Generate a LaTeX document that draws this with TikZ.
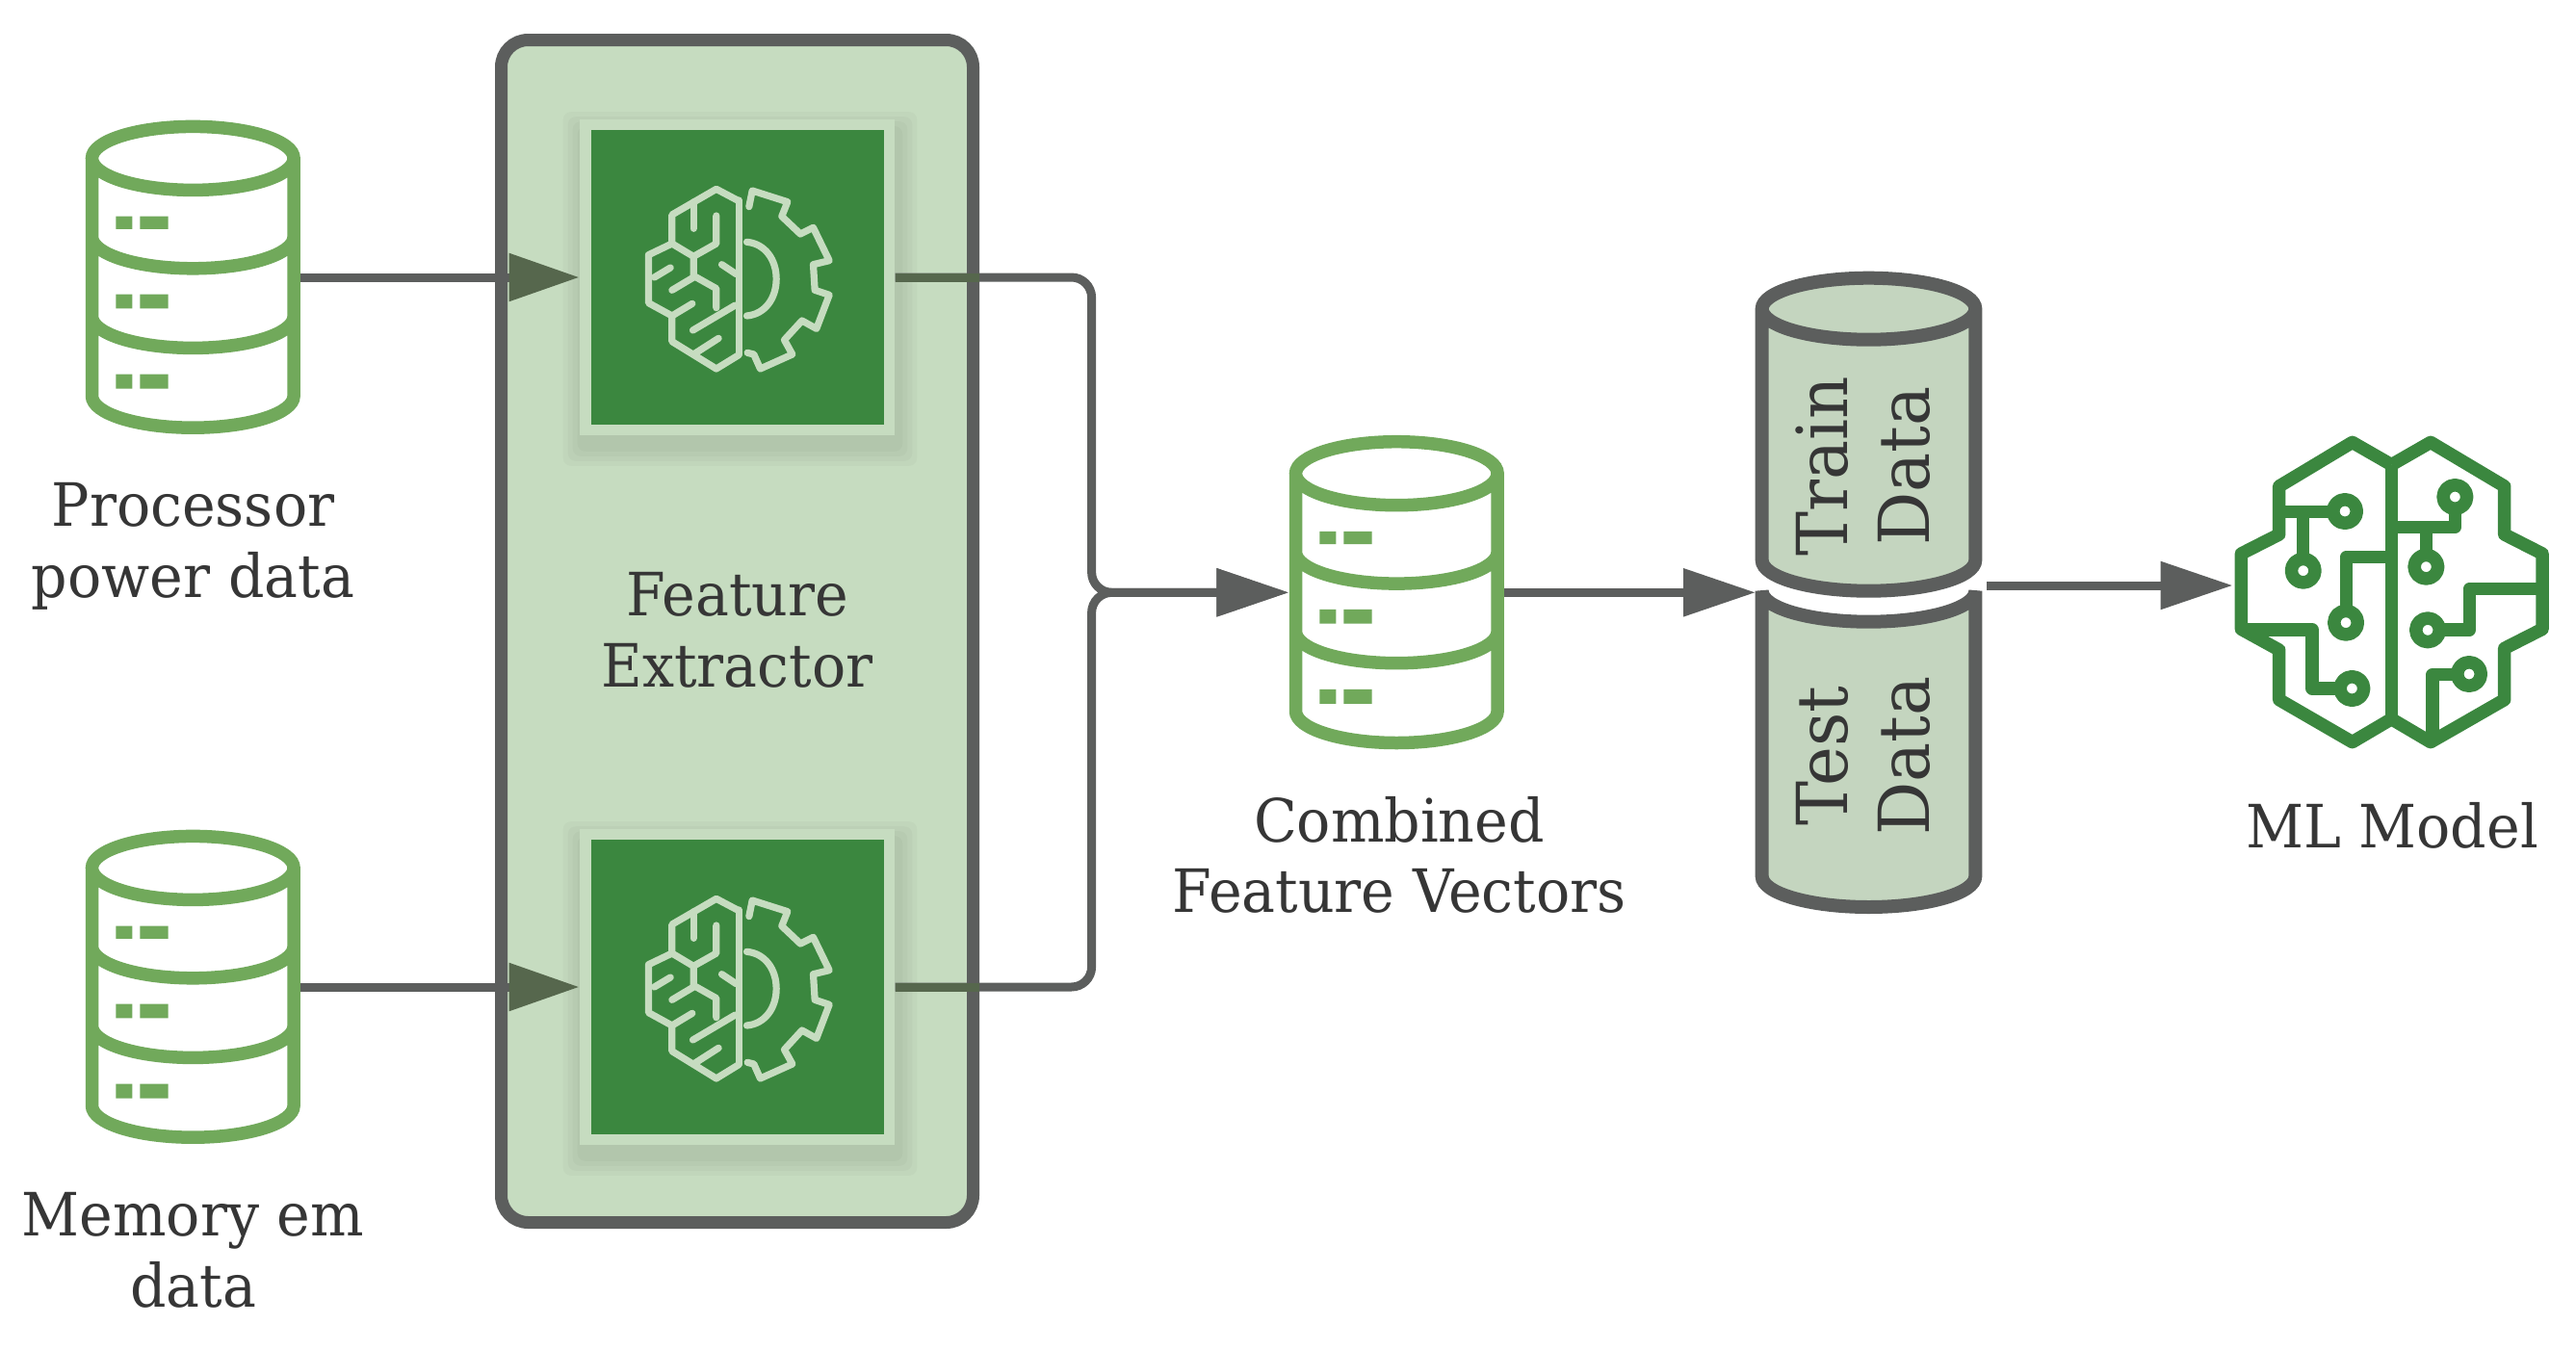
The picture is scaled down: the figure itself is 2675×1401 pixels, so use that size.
\documentclass[tikz,border=0pt]{standalone}
\usepackage{fontspec}
\setmainfont[FakeStretch=0.945]{DejaVu Serif}
\usetikzlibrary{arrows.meta}
\definecolor{dbgreen}{HTML}{71A95B}
\definecolor{panel}{HTML}{C6DCC0}
\definecolor{cylfill}{HTML}{C4D5BF}
\definecolor{dark}{HTML}{5C5E5D}
\definecolor{deepgreen}{HTML}{3B873F}
\definecolor{linein}{HTML}{56674D}
\definecolor{labelc}{HTML}{363636}
\tikzset{
  lbl/.style={text=labelc,align=center,font=\fontsize{62}{73.7}\selectfont,inner sep=0pt},
  rotlbl/.style={text=labelc,align=center,rotate=90,font=\fontsize{73}{85}\selectfont,inner sep=0pt},
  slot/.style={inner sep=0pt,minimum width=223.5pt,minimum height=327pt},
  fslot/.style={inner sep=0pt,minimum width=327.6pt,minimum height=327.6pt},
  conn/.style={draw=dark,line width=9pt},
  headdark/.style={-{Triangle[length=75pt,width=48pt,fill=dark,color=dark]}},
  headin/.style={-{Triangle[length=73pt,width=48pt,fill=linein,color=linein]}},
  pics/dbicon/.style={code={
    \fill[dbgreen] (-80,-63.4) rectangle (-63,-50.2) (-55,-63.4) rectangle (-25.7,-50.2)
      (-80,17.6) rectangle (-63,32.3) (-55,17.6) rectangle (-25.7,32.3)
      (-80,100.5) rectangle (-63,115.5) (-55,100.5) rectangle (-25.7,115.5);
    \draw[dbgreen,line width=13.5pt]
      (0,-123.6) ellipse [x radius=104.8pt,y radius=33pt]
      (-104.8,-123.6) -- (-104.8,123.2)
        .. controls (-104.8,141.4) and (-57.9,156.2) .. (0,156.2)
        .. controls (57.9,156.2) and (104.8,141.4) .. (104.8,123.2) -- (104.8,-123.6)
      (-104.8,-42.2) .. controls (-104.8,-24) and (-57.9,-9.2) .. (0,-9.2)
        .. controls (57.9,-9.2) and (104.8,-24) .. (104.8,-42.2)
      (-104.8,40.4) .. controls (-104.8,58.6) and (-57.9,73.4) .. (0,73.4)
        .. controls (57.9,73.4) and (104.8,58.6) .. (104.8,40.4);
  }},
  pics/brainicon/.style={code={
    \begin{scope}[x=0.3333pt,y=-0.3333pt,shift={(-498,-510)},draw=panel,line width=7.2pt,line join=round,line cap=round]
      \draw (503,270) -- (503,750);
      \draw (503,272) -- (433,235) -- (295,315) -- (295,405) -- (222,440) -- (222,590) -- (295,630) -- (295,710) -- (433,795) -- (503,752);
      \draw (362,275) -- (362,358);
      \draw (433,318) -- (433,405) -- (362,445) -- (295,405);
      \draw (362,445) -- (362,505) -- (433,545) -- (433,605);
      \draw (492,597) -- (360,675);
      \draw (240,510) -- (290,480);
      \draw (450,470) -- (495,500);
      \draw (295,550) -- (362,510);
      \draw (295,630) -- (358,592);
      \draw (362,750) -- (440,700);
      \draw (535,290) -- (545,240) -- (655,275) -- (637,320) -- (695,375) -- (735,355) -- (785,458) -- (735,470) -- (740,550) -- (785,565) -- (745,670) -- (700,645) -- (645,705) -- (670,750) -- (570,795) -- (550,750) -- (530,745);
      \draw (528,400) .. controls (585,405) and (620,455) .. (620,515) .. controls (620,575) and (585,625) .. (528,630);
    \end{scope}
  }},
  pics/mlbrain/.style={code={
    \begin{scope}[x=0.3333pt,y=-0.3333pt,shift={(-551,-555)},draw=deepgreen,line width=13.5pt,line join=round]
      \draw (550,158) -- (428,88) -- (200,225) -- (200,375) -- (82,435) -- (82,670) -- (200,735) -- (200,890) -- (428,1022) -- (550,950);
      \draw (550,158) -- (672,88) -- (902,225) -- (902,375) -- (1020,435) -- (1020,670) -- (902,730) -- (902,890) -- (672,1022) -- (550,950);
      \draw (550,158) -- (550,950);
      \draw (200,305) -- (355,305);
      \draw (275,305) -- (275,440);
      \draw (550,445) -- (410,445) -- (410,610);
      \draw (82,672) -- (303,672) -- (303,855) -- (380,855);
      \draw (550,352) -- (748,352) -- (748,300);
      \draw (658,352) -- (658,430);
      \draw (1020,545) -- (793,545) -- (793,672) -- (715,672);
      \draw (678,1012) -- (678,812) -- (745,812);
      \foreach \cx/\cy in {405/303,275/488,408/650,427/855,748/258,658/476,663/673,792/810}
        \draw[fill=white] (\cx,\cy) circle [radius=12.3pt];
    \end{scope}
  }}
}
\begin{document}
\begin{tikzpicture}[x=1pt,y=-1pt]
\useasboundingbox (0,0) rectangle (2675,1401);
\fill[white] (0,0) rectangle (2675,1401);

% feature panel
\node[inner sep=0pt,minimum width=490pt,minimum height=1228pt,draw=dark,fill=panel,line width=13pt,rounded corners=28pt] (panel) at (765.5,655.5) {};

% feature boxes
\foreach \yy/\nm in {288/fa,1025/fb}{
  \foreach \gr in {20,15,10,5}
    \fill[black,opacity=0.025,rounded corners=8pt] (765.5-163.8-\gr+3,\yy-163.8-\gr+12) rectangle (765.5+163.8+\gr+3,\yy+163.8+\gr+12);
  \node[fslot,fill=panel] (\nm) at (765.5,\yy) {};
  \fill[deepgreen] (613.5,\yy-152.8) rectangle (918.3,\yy+152.8);
  \pic at (\nm) {brainicon};
}

% databases
\node[slot] (dba) at (200.3,288) {};
\node[slot] (dbb) at (200.3,1025) {};
\node[slot] (dbc) at (1450.3,615.3) {};
\pic at (dba) {dbicon};
\pic at (dbb) {dbicon};
\pic at (dbc) {dbicon};

% cylinders
\coordinate (cylin) at (1823,615.3);
\coordinate (cylout) at (2063,608);
\filldraw[draw=dark,fill=cylfill,line width=14pt]
  (1829.7,613.7) .. controls (1829.7,631.4) and (1879.4,645.7) .. (1940.5,645.7)
  .. controls (2001.6,645.7) and (2051.3,631.4) .. (2051.3,613.7)
  -- (2051.3,910) .. controls (2051.3,927.7) and (2001.6,942) .. (1940.5,942)
  .. controls (1879.4,942) and (1829.7,927.7) .. (1829.7,910) -- cycle;
\filldraw[draw=dark,fill=cylfill,line width=14pt]
  (1829.7,320.7) -- (1829.7,581.7) .. controls (1829.7,599.4) and (1879.4,613.7) .. (1940.5,613.7)
  .. controls (2001.6,613.7) and (2051.3,599.4) .. (2051.3,581.7) -- (2051.3,320.7)
  .. controls (2051.3,303) and (2001.6,288.7) .. (1940.5,288.7)
  .. controls (1879.4,288.7) and (1829.7,303) .. (1829.7,320.7)
  .. controls (1829.7,338.4) and (1879.4,352.7) .. (1940.5,352.7)
  .. controls (2001.6,352.7) and (2051.3,338.4) .. (2051.3,320.7);
\node[rotlbl] (train) at (1935,484) {Train\\Data};
\node[rotlbl] (test) at (1935,785) {Test\\Data};

% ML model
\node[inner sep=0pt,minimum width=330pt,minimum height=330pt] (ml) at (2483.7,615) {};
\pic at (ml) {mlbrain};

% connectors
\draw[conn,headin,draw=dark] (dba.east) -- (fa.west);
\draw[conn,headin,draw=dark] (dbb.east) -- (fb.west);
\draw[conn,headdark,rounded corners=21pt] (fa.east) -- (1133.6,288) -- (1133.6,615.3) -- (dbc.west);
\draw[conn,headdark,rounded corners=21pt] (fb.east) -- (1133.6,1025) -- (1133.6,615.3) -- (dbc.west);
\draw[draw=linein,line width=9pt] (fa.east) -- (fa.east -| panel.east);
\draw[draw=linein,line width=9pt] (fb.east) -- (fb.east -| panel.east);
\draw[conn,headdark] (dbc.east) -- (cylin);
\draw[conn,headdark] (cylout) -- (cylout -| ml.west);

% labels
\node[lbl] (la) at (200.5,567) {Processor\\power data};
\node[lbl] (lb) at (200.5,1298) {Memory em\\data};
\node[lbl] (lc) at (765.5,654) {Feature\\Extractor};
\node[lbl] (ld) at (1453,888) {Combined\\Feature Vectors};
\node[lbl] (le) at (2484,857) {ML Model};
\end{tikzpicture}
\end{document}
